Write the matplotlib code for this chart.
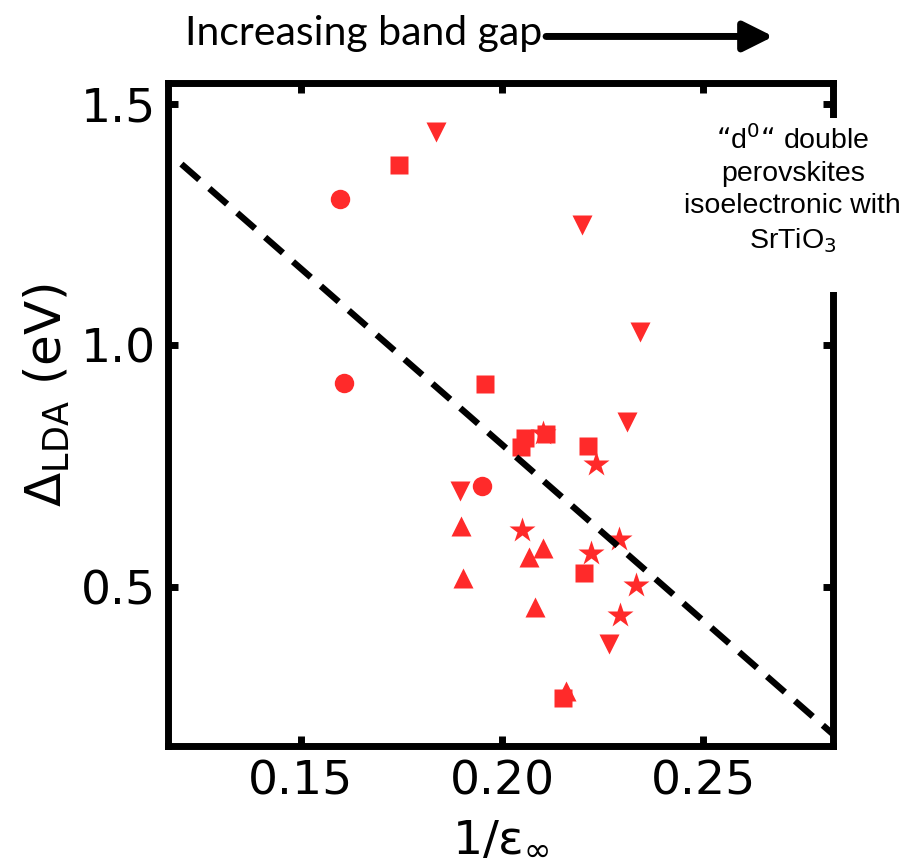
import numpy as np
import matplotlib.pyplot as plt
from matplotlib.patches import FancyArrowPatch, Rectangle

# data: x = 1/eps_inf, y = Delta_LDA (eV)
circ_x = [0.1597, 0.1607, 0.1951]
circ_y = [1.302, 0.922, 0.709]

sq_x = [0.1743, 0.1959, 0.2056, 0.2047, 0.2110, 0.2215, 0.2203, 0.2151]
sq_y = [1.374, 0.921, 0.808, 0.790, 0.816, 0.792, 0.530, 0.271]

down_x = [0.1837, 0.2198, 0.2343, 0.2310, 0.1895, 0.2267]
down_y = [1.441, 1.250, 1.028, 0.842, 0.698, 0.382]

up_x = [0.1898, 0.1903, 0.2067, 0.2101, 0.2081, 0.2159]
up_y = [0.627, 0.519, 0.563, 0.582, 0.458, 0.285]

star_x = [0.2102, 0.2233, 0.2049, 0.2221, 0.2291, 0.2334, 0.2293]
star_y = [0.818, 0.755, 0.618, 0.571, 0.599, 0.505, 0.443]

# dashed fit line y = a + b*x
fit_a = 2.251
fit_b = -7.28
fit_x = np.array([0.1203, 0.2823])

red = '#ff2a2a'

fig = plt.figure(figsize=(9.24, 8.68), dpi=100)
ax = fig.add_axes([0.182, 0.1406, 0.7195, 0.7638])

ax.plot(fit_x, fit_a + fit_b * fit_x, '--', color='black', lw=4.6,
        dashes=(3.7, 2.1), zorder=3)

ms = 14
ax.plot(circ_x, circ_y, 'o', color=red, ms=ms, mec='none', zorder=2)
ax.plot(sq_x, sq_y, 's', color=red, ms=ms - 1, mec='none', zorder=2)
ax.plot(down_x, down_y, 'v', color=red, ms=ms, mec='none', zorder=2)
ax.plot(up_x, up_y, '^', color=red, ms=ms, mec='none', zorder=2)
ax.plot(star_x, star_y, '*', color=red, ms=ms + 5, mec='none', zorder=2)

ax.set_xlim(0.117, 0.2823)
ax.set_ylim(0.1715, 1.543)
ax.set_xticks([0.15, 0.20, 0.25])
ax.set_xticklabels(['0.15', '0.20', '0.25'])
ax.set_yticks([0.5, 1.0, 1.5])
ax.set_yticklabels(['0.5', '1.0', '1.5'])

for s in ax.spines.values():
    s.set_linewidth(5)
ax.tick_params(direction='in', length=7, width=5, labelsize=34,
               top=True, right=True)
ax.tick_params(axis='x', pad=10)
ax.tick_params(axis='y', pad=9)

ax.set_xlabel('1/ε$_\\infty$', fontsize=34, labelpad=8)
ax.set_ylabel('$\\Delta_{\\mathregular{LDA}}$ (eV)', fontsize=36)
ax.yaxis.set_label_coords(-0.145, 0.53)

# white gap in the right spine behind the note
fig.patches.append(Rectangle((0.88, 0.664), 0.05, 0.200, transform=fig.transFigure,
                             facecolor='white', edgecolor='none', zorder=4))
fig.text(0.858, 0.781, '“d$^{0}$“ double\nperovskites\nisoelectronic with\nSrTiO$_{3}$',
         ha='center', va='center', fontsize=20.5, family='Liberation Sans',
         linespacing=1.3, zorder=5)

fig.text(0.2, 0.948, 'Increasing band gap', ha='left', va='baseline',
         fontsize=29.5, family=['Lato', 'DejaVu Sans'])
fig.patches.append(FancyArrowPatch(
    (0.588, 0.958), (0.840, 0.958), transform=fig.transFigure,
    arrowstyle='-|>,head_length=9,head_width=4.5', lw=5, color='black',
    mutation_scale=2))

fig.savefig('out.png', dpi=100)
